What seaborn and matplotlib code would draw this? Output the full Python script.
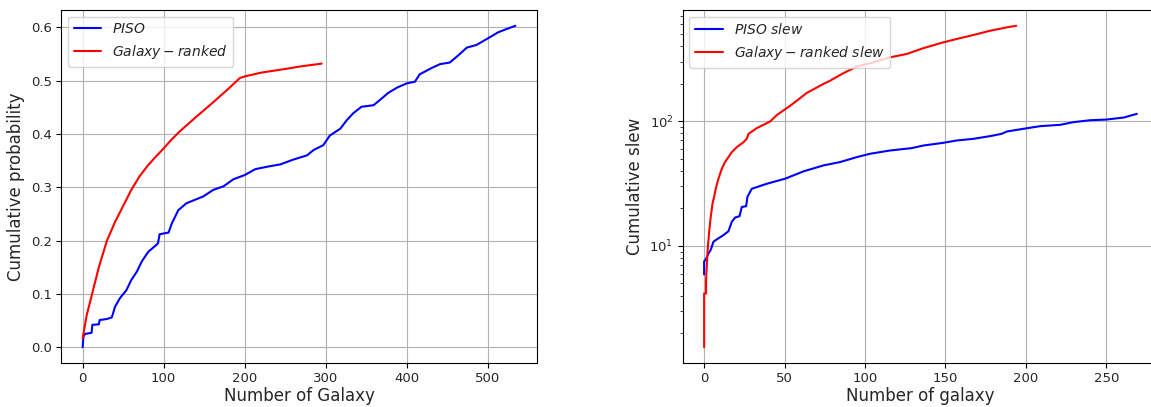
import matplotlib
matplotlib.use("Agg")
import matplotlib.pyplot as plt
import seaborn as sns

# ---- Left panel: cumulative probability ----
piso_n = [0, 1, 3, 11, 12, 20, 21, 30, 36, 40, 46, 54, 60, 67, 73, 81, 91, 93, 95, 106,
          110, 118, 128, 141, 149, 161, 174, 186, 200, 213, 229, 244, 260, 277, 285,
          297, 305, 318, 326, 334, 344, 359, 367, 377, 388, 400, 410, 416, 431, 441,
          453, 464, 474, 486, 503, 513, 534]
piso_p = [0.0, 0.020, 0.025, 0.027, 0.042, 0.043, 0.051, 0.053, 0.056, 0.076, 0.092,
          0.107, 0.126, 0.142, 0.161, 0.179, 0.192, 0.195, 0.212, 0.215, 0.232, 0.257,
          0.270, 0.278, 0.283, 0.295, 0.302, 0.315, 0.323, 0.334, 0.339, 0.343, 0.352,
          0.360, 0.370, 0.379, 0.397, 0.410, 0.426, 0.439, 0.451, 0.454, 0.464, 0.477,
          0.487, 0.495, 0.498, 0.512, 0.524, 0.531, 0.534, 0.548, 0.562, 0.567, 0.582,
          0.591, 0.603]

gal_n = [0, 5, 10, 20, 30, 40, 50, 60, 70, 80, 90, 100, 110, 120, 140, 160, 180, 194,
         200, 220, 250, 270, 285, 295]
gal_p = [0.017, 0.060, 0.090, 0.150, 0.200, 0.235, 0.265, 0.295, 0.320, 0.340, 0.357,
         0.373, 0.390, 0.405, 0.432, 0.458, 0.485, 0.505, 0.508, 0.515, 0.522, 0.527,
         0.530, 0.532]

# ---- Right panel: cumulative slew ----
piso_slew_n = [0, 0, 1.2, 2.7, 4.1, 5.8, 7.5, 12, 15.1, 17.2, 19.3, 22, 23.4, 26.1, 26.9,
               29.6, 39, 50.4, 61.8, 74.2, 84.5, 94.9, 103.2, 115.6, 129, 136.3, 148.8,
               157, 167.4, 177.8, 185, 188.1, 198.5, 208.9, 221.3, 229.6, 240, 250,
               260.9, 269]
piso_slew_v = [5.9, 7.5, 7.9, 8.7, 9.3, 10.8, 11.2, 12.2, 13.1, 15.6, 16.9, 17.3, 20.5,
               20.8, 24.7, 28.7, 31.5, 34.6, 39.6, 44.2, 47.0, 51.5, 54.8, 58.2, 60.8,
               63.8, 67.1, 70.0, 72.2, 75.9, 79.2, 82.6, 86.9, 91.2, 93.5, 98.2, 101.8,
               103.0, 107.0, 114.5]

gal_slew_n = [0, 0, 1.2, 1.2, 2.1, 3.1, 4.1, 5.2, 6.2, 7.3, 8.9, 11, 13, 15.1, 17.2, 20.3,
              24.5, 26.5, 27.6, 32.7, 41, 45.2, 53.5, 57.6, 63.8, 74.2, 78.3, 85.6,
              94.9, 105.2, 115.6, 126, 136, 148.8, 157, 167.4, 177.8, 188.1, 194]
gal_slew_v = [1.54, 4.15, 4.15, 5.3, 8.96, 12.9, 17.1, 21.8, 24.7, 29.1, 34.6, 41.6, 47.0,
              51.5, 56.5, 61.9, 67.9, 72.2, 79.2, 87.9, 99.4, 112, 133, 146, 168.5,
              199, 211, 239, 274, 296, 325, 346, 384, 429, 456, 491, 531, 565, 582]

sns.set_style("ticks")
plt.rcParams['font.family'] = ['DejaVu Sans']
plt.rcParams['mathtext.fontset'] = 'dejavusans'

fig = plt.figure(figsize=(11.51, 4.07), dpi=100)
ax1 = fig.add_axes([61 / 1151, 1 - 363.3 / 407, 476 / 1151, 353.6 / 407])
ax2 = fig.add_axes([682.5 / 1151, 1 - 363.3 / 407, 476 / 1151, 353.6 / 407])

sns.lineplot(x=piso_n, y=piso_p, ax=ax1, color='blue', lw=1.5, sort=False,
             estimator=None, label=r'$PISO$')
sns.lineplot(x=gal_n, y=gal_p, ax=ax1, color='red', lw=1.5, sort=False,
             estimator=None, label=r'$Galaxy-ranked$')
ax1.set_xlabel('Number of Galaxy', fontsize=12, labelpad=1.5)
ax1.set_ylabel('Cumulative probability', fontsize=12)
ax1.set_xticks([0, 100, 200, 300, 400, 500])
ax1.set_yticks([0.0, 0.1, 0.2, 0.3, 0.4, 0.5, 0.6])
ax1.grid(True, color='#b0b0b0', lw=0.8)
ax1.legend(loc='upper left', fontsize=10)

sns.lineplot(x=piso_slew_n, y=piso_slew_v, ax=ax2, color='blue', lw=1.5, sort=False,
             estimator=None, label=r'$PISO\ slew$')
sns.lineplot(x=gal_slew_n, y=gal_slew_v, ax=ax2, color='red', lw=1.5, sort=False,
             estimator=None, label=r'$Galaxy-ranked\ slew$')
ax2.set_yscale('log')
ax2.set_xlabel('Number of galaxy', fontsize=12, labelpad=1.5)
ax2.set_ylabel('Cumulative slew', fontsize=12)
ax2.set_xticks([0, 50, 100, 150, 200, 250])
ax2.grid(True, which='major', color='#b0b0b0', lw=0.8)
ax2.legend(loc='upper left', fontsize=10)

for ax in (ax1, ax2):
    for s in ax.spines.values():
        s.set_color('black')
        s.set_linewidth(0.8)
    ax.tick_params(labelsize=9.5, color='black', direction='out', pad=3)

fig.savefig('out.png', dpi=100)
